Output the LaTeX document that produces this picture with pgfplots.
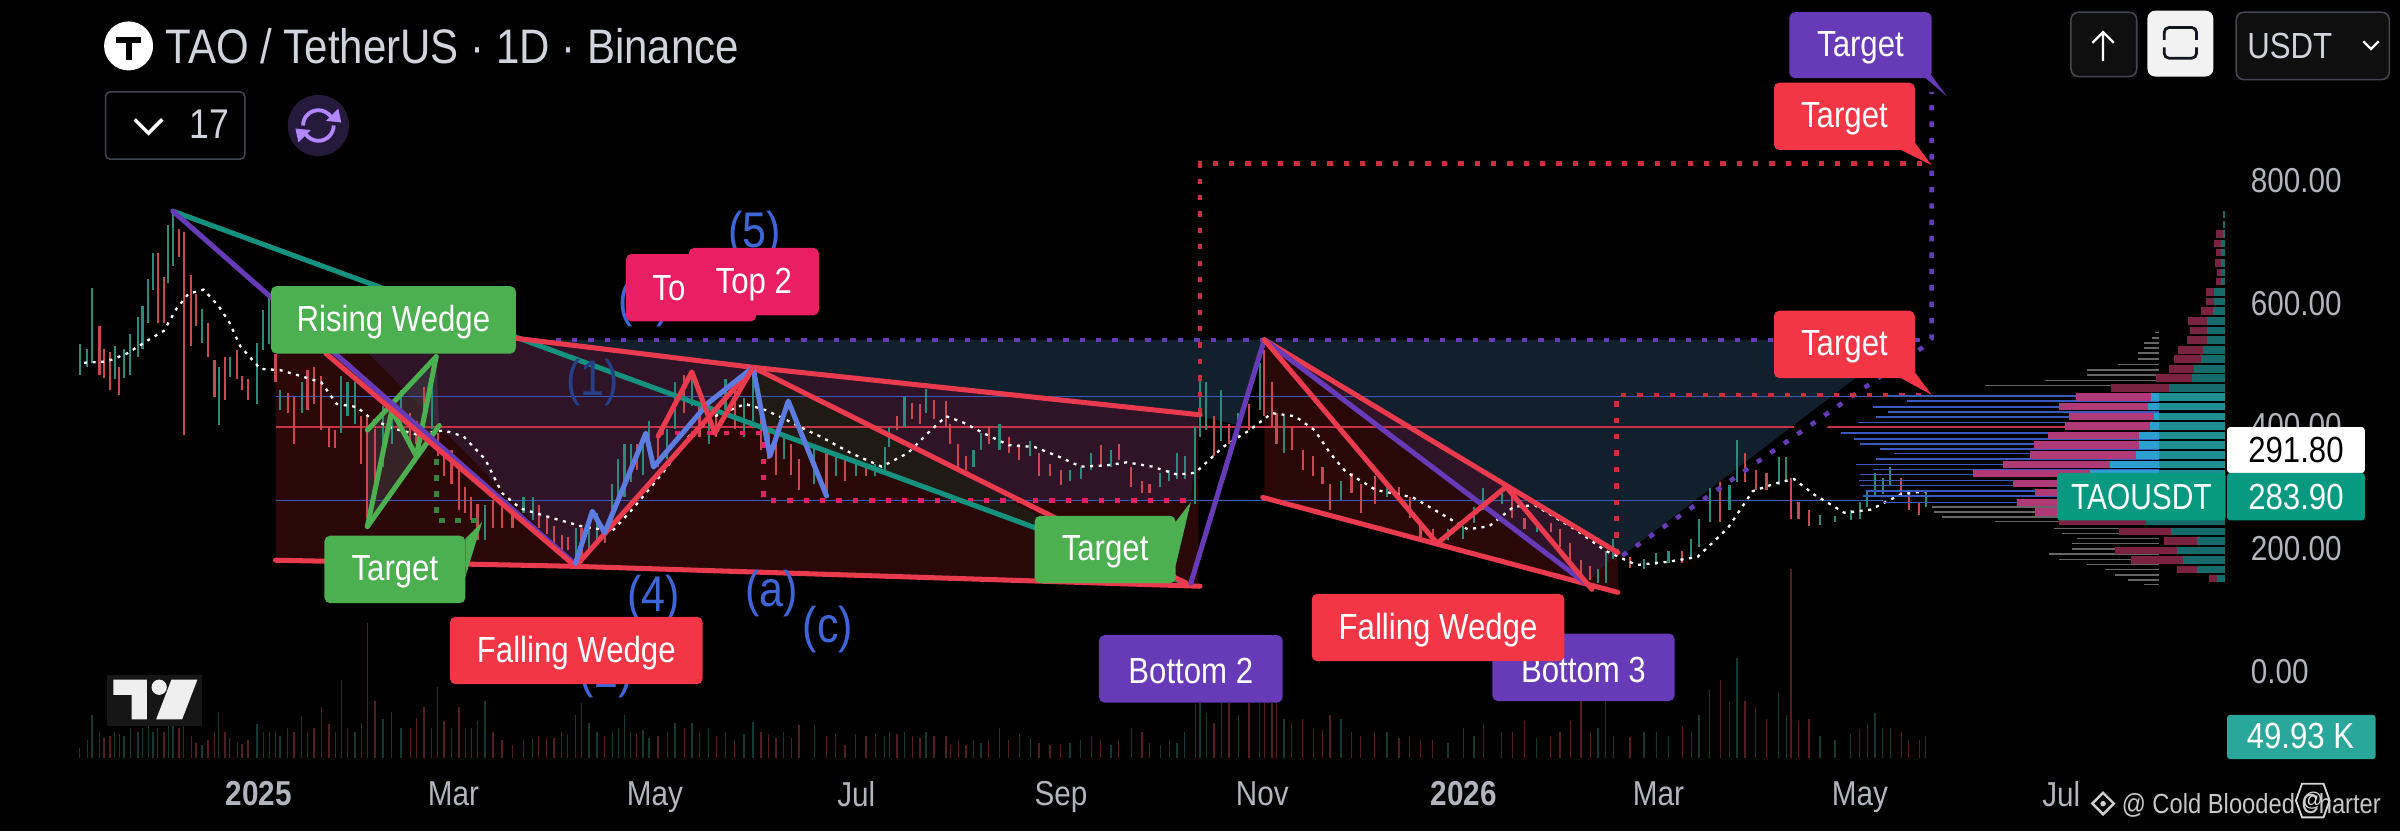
\documentclass[border=0pt]{standalone}
\usepackage{fontspec}
\setmainfont{Liberation Sans}
\usepackage{graphicx}
\usepackage{pgfplots}
\usepackage{pgfplotstable}
\pgfplotsset{compat=1.18}
\definecolor{tvred}{HTML}{F23645}
\definecolor{lnred}{HTML}{E93A4E}
\definecolor{tvgreen}{HTML}{4CAF50}
\definecolor{tvpurple}{HTML}{673AB7}
\definecolor{tvpink}{HTML}{E91E63}
\definecolor{tvteal}{HTML}{089981}
\definecolor{lnteal}{HTML}{14917F}
\definecolor{wave}{HTML}{3F66D9}
\definecolor{upc}{HTML}{2A8A7C}
\definecolor{dnc}{HTML}{C9474F}
\definecolor{axt}{HTML}{B2B5BE}
\definecolor{hblue}{HTML}{3B58C0}
\definecolor{hred}{HTML}{C8334A}
\definecolor{wbase}{HTML}{2A0808}
\definecolor{wlight}{HTML}{2E1426}
\definecolor{wolive}{HTML}{1F1A14}
\definecolor{navy}{HTML}{12202E}
\definecolor{HTML7A2340}{HTML}{7A2340}
\definecolor{HTML176A6A}{HTML}{176A6A}
\definecolor{HTMLB03A78}{HTML}{B03A78}
\definecolor{HTML2A9FD0}{HTML}{2A9FD0}
\definecolor{HTML1F8F94}{HTML}{1F8F94}
\definecolor{HTML2AA79B}{HTML}{2AA79B}
\definecolor{HTMLD1D4DC}{HTML}{D1D4DC}
\definecolor{HTML434651}{HTML}{434651}
\definecolor{HTML251A3C}{HTML}{251A3C}
\definecolor{HTMLB388FF}{HTML}{B388FF}
\definecolor{HTML0F0F0F}{HTML}{0F0F0F}
\definecolor{HTMLF2F2F2}{HTML}{F2F2F2}
\definecolor{HTML131722}{HTML}{131722}
\definecolor{HTML161616}{HTML}{161616}
\definecolor{HTMLEFEFEF}{HTML}{EFEFEF}
\definecolor{HTMLD0D0D0}{HTML}{D0D0D0}
\definecolor{HTMLC8C8C8}{HTML}{C8C8C8}
\definecolor{HTMLD8D8D8}{HTML}{D8D8D8}
\newcommand\tx[1]{\scalebox{.97}[1.13]{#1}}

% daily bars: day since 2025-01-01, low, high, up flag, volume (K)
\pgfplotstableread{
d lo hi u v
-54.2 483 533 1 23
-51.9 496 525 1 40
-50.5 503 625 1 100
-48.2 483 563 0 60
-46.8 478 525 0 45
-45 458 520 0 50
-43.6 476 530 1 60
-42.2 451 496 0 55
-40.8 478 525 1 50
-38.9 483 550 1 70
-36.6 513 578 1 60
-35.2 525 595 1 70
-33.4 568 640 1 75
-32 622 682 1 60
-30.6 568 682 0 70
-28.7 568 642 0 60
-27.4 632 727 1 75
-26 660 752 1 80
-24.1 675 720 0 70
-22.7 386 715 0 93
-20.4 530 645 0 50
-19 563 615 0 35
-17.2 535 590 1 30
-15.3 513 568 0 40
-13.4 448 508 0 60
-12.1 401 496 1 107
-10.2 443 513 0 60
-8.8 480 513 1 46
-6.5 476 523 0 36
-5.1 458 481 0 32
-3.2 443 476 0 40
-0.5 436 535 1 78
1.4 523 588 1 60
3.2 533 608 1 60
5.1 471 518 0 61
6.5 426 458 1 50
8.8 421 453 0 70
10.7 371 448 0 60
13 421 471 1 96
14.8 426 491 0 60
16.7 436 496 0 70
19 393 481 0 118
21.3 366 398 0 78
23.2 364 393 0 60
25 388 481 1 182
26.9 416 471 1 70
29.2 403 471 1 60
31.1 339 416 0 80
32.9 251 416 0 314
35.2 309 396 0 132
37.6 334 433 1 90
40.3 371 441 1 107
43.1 396 458 1 70
45.9 371 421 0 70
47.8 371 408 0 93
50.1 416 463 0 118
52.4 396 471 1 70
54.2 351 388 0 164
56.1 319 351 0 85
58.4 306 361 0 70
60.7 264 334 0 118
62.6 259 301 0 70
64.4 247 284 0 70
66.3 214 274 0 85
68.6 214 271 1 132
71 234 279 0 60
73.7 234 271 0 40
76.9 234 259 0 30
80.2 259 284 1 40
83 247 284 1 45
84.8 234 271 0 50
87.2 224 251 0 45
89.5 209 237 0 45
91.8 192 222 0 60
93.6 199 219 0 55
96 172 234 1 100
97.8 177 234 0 128
100.1 197 247 1 80
102.5 209 259 1 60
104.8 209 234 0 50
107.1 242 306 1 60
108.9 279 346 1 70
110.8 284 371 1 100
112.7 309 371 1 60
114.5 329 371 0 55
116.4 321 383 1 65
118.2 359 408 1 45
121 334 383 0 50
123.8 346 396 1 60
126.1 396 471 1 80
128.9 421 483 0 70
131.2 433 483 1 80
133.5 383 433 0 60
136.3 371 408 1 70
138.6 383 421 0 50
141.4 426 476 1 60
144.2 396 458 0 40
147 383 446 1 55
149.7 408 496 1 82
152.1 361 426 0 60
154.4 346 396 0 55
156.7 321 371 0 45
159 346 383 1 60
161.3 321 371 0 45
163.7 296 346 0 75
168.3 306 371 1 75
172 291 361 0 50
174.8 319 351 1 55
177.6 311 346 0 30
180.8 319 339 1 55
184 319 336 0 50
186.8 319 339 1 55
189.6 329 366 1 50
191 366 398 1 60
193.3 393 416 0 55
195.6 398 448 1 60
198 411 438 0 50
200.3 403 436 0 45
202.1 421 461 1 60
204.5 411 443 0 50
208.2 398 441 0 50
209.5 371 403 0 30
211.9 334 371 0 40
214.2 329 351 0 30
216.5 334 361 1 40
218.8 361 388 1 35
221.1 371 398 0 40
224.4 361 403 1 70
227.2 356 383 0 40
230.4 344 371 0 55
233.7 351 376 1 45
236.4 319 356 0 35
239.7 319 339 0 30
242.9 304 329 0 30
245.7 311 329 1 35
249 314 334 1 40
252.2 329 356 1 50
255 334 369 0 40
258.2 334 361 1 30
260.5 344 371 0 40
264.3 301 334 0 70
267.5 291 311 0 60
269.8 291 306 0 35
273.1 301 324 1 30
275.8 311 329 1 40
278.2 314 356 1 35
280.5 314 351 1 60
283.7 274 398 1 125
285.1 383 476 1 128
287 393 471 1 103
289.3 351 416 0 80
291.6 376 458 1 128
293.9 371 403 0 128
296.7 383 421 1 100
300 393 436 0 128
303.2 426 503 1 128
304.6 416 523 0 130
306.9 398 471 0 128
308.3 371 421 0 135
310.6 356 416 1 90
312.9 361 398 0 80
316.2 329 361 0 90
319.4 319 351 0 70
322.2 306 334 0 65
324.5 264 306 0 100
327.8 279 311 1 90
331 291 324 0 60
333.8 259 306 0 50
338 274 319 0 60
341.7 284 311 1 60
345.4 279 301 0 45
348.6 251 284 0 50
351.9 214 242 0 40
355.6 212 232 0 40
360.2 214 232 1 35
364.9 217 237 1 70
368.1 242 269 1 50
370.9 264 299 1 80
376.5 274 296 1 60
379.7 251 284 0 60
383.4 232 251 0 85
387.1 227 242 1 45
391.3 227 242 0 50
394.1 204 232 0 60
397.3 182 209 0 85
400.5 149 182 0 132
403.3 149 172 0 60
405.7 144 167 1 70
408 144 197 1 132
410.3 184 217 1 50
415.4 169 187 0 47
419.6 167 184 1 60
423.3 174 194 1 60
427 177 197 1 50
431.2 177 197 0 74
433.9 184 217 1 60
436.3 204 249 1 100
439.5 244 299 1 157
442.7 244 309 0 182
445.5 264 304 1 130
447.8 309 378 1 232
450.2 309 356 0 132
453.4 296 329 0 118
456.7 296 324 0 90
460.4 304 349 1 150
462.7 309 349 1 100
464.1 249 316 0 439
466.4 249 276 0 85
469.6 237 264 0 90
472.9 239 256 1 50
477.5 244 254 1 40
482.2 247 264 1 55
484.9 249 276 1 66
487.2 269 296 1 80
489.6 284 324 1 104
491.9 289 316 1 70
494.2 304 334 1 70
497.5 284 316 0 60
499.8 264 296 0 40
503 256 276 0 42
504.9 269 296 1 50
}\candles

% moving average (day, price)
\pgfplotstableread{
d p
-52.9 503
-45.9 505
-39.9 518
-33.4 540
-28.7 555
-25 590
-21.3 615
-16.7 622
-12.1 595
-8.8 568
-5.6 530
0.5 493
6.5 491
13 481
19 471
23.6 436
29.7 431
34.3 411
40.8 396
48.2 386
56.1 393
62.1 383
68.6 346
73.7 291
79.3 266
88.5 251
97.8 237
107.1 229
113.1 264
122.4 324
130.3 383
138.2 416
147.4 436
153.5 426
159.5 411
164.1 398
170.1 383
179.4 356
188.7 334
196.6 356
202.6 388
208.2 416
213.3 406
219.7 388
227.2 369
235 366
242.9 349
249 334
256.8 336
262.9 341
270.7 334
278.2 321
283.7 324
292.1 366
300 393
306.9 421
313.9 416
319.9 393
324.5 356
329.2 326
338.4 296
349.6 284
357 261
366.2 232
372.7 237
380.2 269
386.6 271
398.7 232
406.1 204
408 197
417.3 174
426.5 179
435.8 187
445 234
452.5 294
459 306
465 314
471 289
480.3 259
488.2 264
497.5 289
504.9 294
}\sma

% volume profile, outer rows: price, left end of the up part, left end of the down part
\pgfplotstableread{
p t r
744.5 595.1 595.1
728 595.1 595.1
712.6 595.1 592.8
697 594.5 592.2
682 594.5 592.7
665 594.5 592.5
650 594.5 593.3
635 594.5 592.7
618 592.2 589.9
603 592.2 589.9
587 591.8 588.3
571 590.2 584.3
555 590.2 585
540 590.2 584
524 589 581.2
509 588.3 580.2
493 586.3 578.6
478 585.6 574.8
462 578.6 561.1
245 571.7 545.4
229 579.1 563.5
213 587.1 577.1
198 581 562.4
182 582.8 567
167 587.1 581
152 593.3 590.7
}\vpouter
% volume profile, value area rows: price, left end of the up parts, left end of the down part
\pgfplotstableread{
p b r
447 573.2 550.3
432 572.4 545.4
416 574 548.2
400 572.9 547.2
385 569.6 542
369 569.6 537.7
353 568.6 536.6
338 560.8 528.4
323 554.7 519.1
307 554.7 531.5
292 554.7 538.1
276 554.7 532.7
260 554.7 538.1
}\vpinner
% volume profile, thin value area lines: price, left end
\pgfplotstableread{
p l
449 493.6
440.4 499.3
431 489
422.5 493.6
414.5 489.8
406 484.3
389 479.2
379 483.3
371 485.1
363 491
355 495.2
346 489.8
337.5 483.9
329.5 489
321.5 485.1
311.6 484.8
303 485.1
294 486.7
286 485.9
276 492.1
}\vpthin
\pgfplotstableread{
p l
552 574.4
543 573.5
535 570.9
527 570.9
519 569.3
509 569.3
500 563.2
491 553.9
483 553.9
474 541
466 523
268 506.8
260 507.5
252 509.8
244.5 526
233 543.8
225 546.2
217 550.8
209 549.3
200 549.3
192 542.3
183 545.4
175 553.9
167 559.3
158 562.4
150 566.3
142 570.9
}\vpgray

% a drawing on the chart, its vertices read as picture positions
\newcommand\drawing[2]{\addplot[#1] table[row sep=\\,header=false,
  x expr={(\thisrowno{0}-169)/2.157}, y expr={(439-\thisrowno{1})*2.49}] {#2};}
\tikzset{
  thick line/.style={line width=3.3pt,line join=round,line cap=round},
  dotted line/.style={line width=3pt,dash pattern=on 3.5pt off 7.2pt},
}
\newcommand\lbl[7]{% x1 y1 x2 y2 colour text size
  \fill[#5,rounded corners=3.5pt] (#1,#2) rectangle (#3,#4);
  \node[text=white,font=\fontsize{#7}{#7}\selectfont,inner sep=0pt] at ({(#1+#3)/2},{(#2+#4)/2+1.7}) {\tx{#6}};}

\begin{document}
\begin{tikzpicture}
\useasboundingbox (0,0) rectangle (1568pt,543pt);
\fill[black] (0,0) rectangle (1568pt,543pt);

% volume pane
\begin{axis}[at={(0,38pt)},anchor=south west,width=1455pt,height=505pt,scale only axis,
  hide axis,xmin=-78.35,xmax=596.2,ymin=-35.7,ymax=1767]
\addplot[draw=none,mark=none,error bars/.cd,y dir=plus,y explicit,error mark=none,
  error bar style={line width=.9pt,color=dnc!42!black}]
  table[x expr={\thisrow{u}>0 ? nan : \thisrow{d}},y expr=0,y error plus=v] {\candles};
\addplot[draw=none,mark=none,error bars/.cd,y dir=plus,y explicit,error mark=none,
  error bar style={line width=.9pt,color=upc!42!black}]
  table[x expr={\thisrow{u}>0 ? \thisrow{d} : nan},y expr=0,y error plus=v] {\candles};
\end{axis}

% price pane
\begin{axis}[at={(0,38pt)},anchor=south west,width=1455pt,height=505pt,scale only axis,
  xmin=-78.35,xmax=596.2,ymin=-164.3,ymax=1093.1,
  axis line style={draw=none},tick style={draw=none},
  xtick={0,59,120,181,243,304,365,424,485,546},
  xticklabels={\tx{\textbf{2025}},\tx{Mar},\tx{May},\tx{Jul},\tx{Sep},\tx{Nov},\tx{\textbf{2026}},\tx{Mar},\tx{May},\tx{Jul}},
  ytick={0,200,400,600,800},yticklabels={\tx{0.00},\tx{200.00},\tx{400.00},\tx{600.00},\tx{800.00}},
  yticklabel pos=right,
  tick label style={text=axt,font=\fontsize{20}{20}\selectfont},
  xticklabel style={yshift=-2pt},
  yticklabel style={anchor=west,xshift=12pt},
  ]
% zones
\drawing{fill=navy,draw=none}{337 222\\1245 222\\1060 363\\1057 361\\826 222\\810 278\\784 272\\}
\drawing{fill=wbase,draw=none}{180 222\\337 222\\783 272\\783 382\\180 366\\}
\drawing{fill=wlight,draw=none}{232 222\\337 222\\492 240\\375 368\\}
\drawing{fill=wlight,draw=none}{492 240\\783 272\\778 327\\655 327\\}
\drawing{fill=wolive,draw=none}{492 240\\675 335\\690 352\\492 279\\}
\drawing{fill=wbase,draw=none}{826 222\\1057 361\\1057 387\\826 326\\}
\drawing{fill=wlight,draw=none}{826 222\\1057 361\\1036 381\\}
\drawing{fill=HTML434651,fill opacity=.45,draw=none}{240 281\\285 233\\287 278\\240 344\\}
% levels
\drawing{hblue,line width=1.2pt}{180 259\\1260 259\\}
\drawing{hblue,line width=1.2pt}{180 327\\1230 327\\}
\drawing{hred,line width=1.2pt}{180 279\\1172 279\\}
\drawing{hred,line width=1.2pt}{1194 279\\1349 279\\}
% bars
\addplot[draw=none,mark=none,error bars/.cd,y dir=plus,y explicit,error mark=none,
  error bar style={line width=1.4pt,color=dnc}]
  table[x expr={\thisrow{u}>0 ? nan : \thisrow{d}},y=lo,y error plus expr={\thisrow{hi}-\thisrow{lo}}] {\candles};
\addplot[draw=none,mark=none,error bars/.cd,y dir=plus,y explicit,error mark=none,
  error bar style={line width=1.4pt,color=upc}]
  table[x expr={\thisrow{u}>0 ? \thisrow{d} : nan},y=lo,y error plus expr={\thisrow{hi}-\thisrow{lo}}] {\candles};
% moving average
\addplot[white,line width=1.5pt,dash pattern=on 2pt off 3.6pt] table[x=d,y=p] {\sma};
% dotted targets
\drawing{dotted line,tvpurple}{363 222\\1255 222\\}
\drawing{dotted line,tvpurple}{1060 363\\1256 227\\1262 221\\1262 60\\}
\drawing{dotted line,tvred!85!black}{784 270\\784 107\\1261 107\\}
\drawing{dotted line,tvred!85!black}{1056 362\\1056 258\\1262 258\\}
\drawing{dotted line,tvpink}{430 283\\499 283\\499 327\\778 327\\}
\drawing{line width=3pt,tvgreen!75!black,dash pattern=on 3.5pt off 7pt}{285 300\\285 340\\313 340\\}
% green wedge
\drawing{thick line,tvgreen}{240 281\\285 233\\}
\drawing{thick line,tvgreen}{240 344\\287 278\\}
\drawing{thick line,tvgreen}{240 344\\256 268\\272 298\\285 233\\}
% long lines
\drawing{thick line,lnteal}{113 138\\775 381\\}
\drawing{thick line,tvpurple}{113 138\\375 368\\}
\drawing{thick line,lnred}{213 231\\376 370\\492 240\\775 381\\}
\drawing{thick line,lnred}{337 221\\492 240\\784 271\\}
\drawing{thick line,lnred}{180 366\\376 370\\784 383\\}
\drawing{thick line,tvpurple}{778 381\\826 222\\}
\drawing{thick line,wave!85!white}{376 368\\387 334\\395 348\\422 283\\427 305\\463 263\\492 240\\503 298\\515 262\\540 324\\}
\drawing{thick line,lnred}{430 285\\452 243\\467 283\\492 240\\}
% second wedge
\drawing{thick line,lnred}{826 222\\1057 361\\}
\drawing{thick line,lnred}{825 325\\1057 387\\}
\drawing{thick line,tvpurple}{826 222\\1036 381\\}
\drawing{thick line,lnred}{826 222\\939 355\\984 318\\1040 385\\}
% volume profile
\addplot[draw=none,mark=none,error bars/.cd,x dir=plus,x explicit,error mark=none,
  error bar style={line width=1pt,color=hblue}]
  table[x=l,y=p,x error plus expr={575.5-\thisrow{l}}] {\vpthin};
\addplot[draw=none,mark=none,error bars/.cd,x dir=plus,x explicit,error mark=none,
  error bar style={line width=1pt,color=gray!80!black}]
  table[x=l,y=p,x error plus expr={575.5-\thisrow{l}}] {\vpgray};
\addplot[draw=none,mark=none,error bars/.cd,x dir=plus,x explicit,error mark=none,
  error bar style={line width=1pt,color=hred}]
  coordinates {(475.1,398) +- (100,0)};
\addplot[draw=none,mark=none,error bars/.cd,x dir=plus,x explicit,error mark=none,
  error bar style={line width=4.8pt,color=HTML7A2340}]
  table[x=r,y=p,x error plus expr={595.6-\thisrow{r}}] {\vpouter};
\addplot[draw=none,mark=none,error bars/.cd,x dir=plus,x explicit,error mark=none,
  error bar style={line width=4.8pt,color=HTML176A6A}]
  table[x=t,y=p,x error plus expr={595.6-\thisrow{t}}] {\vpouter};
\addplot[draw=none,mark=none,error bars/.cd,x dir=plus,x explicit,error mark=none,
  error bar style={line width=4.8pt,color=HTMLB03A78}]
  table[x=r,y=p,x error plus expr={595.6-\thisrow{r}}] {\vpinner};
\addplot[draw=none,mark=none,error bars/.cd,x dir=plus,x explicit,error mark=none,
  error bar style={line width=4.8pt,color=HTML2A9FD0}]
  table[x=b,y=p,x error plus expr={595.6-\thisrow{b}}] {\vpinner};
\addplot[draw=none,mark=none,error bars/.cd,x dir=plus,x explicit,error mark=none,
  error bar style={line width=4.8pt,color=HTML1F8F94}]
  table[x expr=575.5,y=p,x error plus expr=20.1] {\vpinner};
\end{axis}

% labels and interface, placed in picture positions
\begin{scope}[x=1pt,y=-1pt,yshift=543pt]
% wave counts
\foreach \t/\x/\y/\c in {(5)/493/153/wave,(3)/421/198/wave,(1)/387/250/wave!62!black,(4)/427/391/wave,(a)/504/388/wave,(c)/541/411/wave,(2)/396/441/wave}{
  \node[text=\c,font=\fontsize{29}{29}\selectfont,inner sep=0pt] at (\x,\y) {\tx{\t}};}
% boxes
\lbl{177}{187}{337}{231}{tvgreen}{Rising Wedge}{21}
\fill[tvgreen] (280,390)--(304,375)--(304,352)--(315,341)--(300,390)--cycle;
\lbl{212}{350}{304}{394}{tvgreen}{Target}{21}
\lbl{294}{403}{459}{447}{tvred}{Falling Wedge}{21}
\lbl{409}{166}{494}{210}{tvpink}{}{21}
\node[text=white,font=\fontsize{21}{21}\selectfont] at (437,188) {\tx{To}};
\lbl{450}{162}{535}{206}{tvpink}{Top 2}{21}
\fill[tvgreen] (765,345)--(778,328)--(768,370)--cycle;
\lbl{676}{337}{768}{381}{tvgreen}{Target}{21}
\lbl{718}{415}{838}{459}{tvpurple}{Bottom 2}{21}
\lbl{975}{414}{1094}{458}{tvpurple}{Bottom 3}{21}
\lbl{857}{388}{1022}{432}{tvred}{Falling Wedge}{21}
\fill[tvpurple] (1255,40)--(1272,63)--(1258,51)--cycle;
\lbl{1169}{8}{1262}{51}{tvpurple}{Target}{21}
\fill[tvred] (1245,85)--(1262,108)--(1240,97)--cycle;
\lbl{1159}{54}{1251}{98}{tvred}{Target}{21}
\fill[tvred] (1245,235)--(1262,258)--(1240,246)--cycle;
\lbl{1159}{203}{1251}{247}{tvred}{Target}{21}
% price tags
\fill[white,rounded corners=2pt] (1455,279) rectangle (1545,309);
\node[text=black,font=\fontsize{21}{21}\selectfont,inner sep=0pt] at (1500,294) {\tx{291.80}};
\fill[tvteal,rounded corners=2pt] (1344,309) rectangle (1454,340);
\node[text=white,font=\fontsize{21}{21}\selectfont,inner sep=0pt] at (1399,325) {\scalebox{.93}[1.13]{TAOUSDT}};
\fill[tvteal,rounded corners=2pt] (1455,309) rectangle (1545,340);
\node[text=white,font=\fontsize{21}{21}\selectfont,inner sep=0pt] at (1500,325) {\tx{283.90}};
\fill[HTML2AA79B,rounded corners=2pt] (1455,467) rectangle (1552,496);
\node[text=white,font=\fontsize{21}{21}\selectfont,inner sep=0pt] at (1503,481) {\tx{49.93 K}};
% header
\fill[white] (84,30) circle (16);
\fill[black] (76,24) rectangle (92,28);
\fill[black] (82,24) rectangle (86,39);
\node[text=HTMLD1D4DC,font=\fontsize{28}{28}\selectfont,anchor=west,inner sep=0pt] at (108,30) {\scalebox{.98}[1.13]{TAO / TetherUS · 1D · Binance}};
\draw[HTML434651,line width=1pt,rounded corners=3pt] (69,60) rectangle (160,104);
\draw[white,line width=2.2pt] (88,78)--(97,87)--(106,78);
\node[text=HTMLD1D4DC,font=\fontsize{24}{24}\selectfont,inner sep=0pt] at (137,81) {\tx{17}};
\fill[HTML251A3C] (208,82) circle (20);
\draw[HTMLB388FF,line width=2.5pt] (198,82) arc (180:325:10);
\draw[HTMLB388FF,line width=2.5pt] (218,82) arc (0:145:10);
\fill[HTMLB388FF] (213,79)--(223,80)--(221,71)--cycle;
\fill[HTMLB388FF] (203,85)--(193,84)--(195,93)--cycle;
% buttons
\fill[HTML0F0F0F] (1353,8) rectangle (1396,50);
\draw[HTML434651,line width=1pt,rounded corners=5pt] (1353,8) rectangle (1396,50);
\draw[white,line width=1.5pt] (1374,40)--(1374,21) (1367,28)--(1374,21)--(1381,28);
\fill[HTMLF2F2F2,rounded corners=5pt] (1403,7) rectangle (1446,50);
\draw[HTML131722,line width=1.8pt,rounded corners=3pt] (1414,26)--(1414,18)--(1435,18)--(1435,26);
\draw[HTML131722,line width=1.8pt,rounded corners=3pt] (1414,31)--(1414,38)--(1435,38)--(1435,31);
\fill[HTML0F0F0F] (1461,8) rectangle (1561,52);
\draw[HTML434651,line width=1pt,rounded corners=5pt] (1461,8) rectangle (1561,52);
\node[text=HTMLD1D4DC,font=\fontsize{21}{21}\selectfont,anchor=west,inner sep=0pt] at (1468,30) {\tx{USDT}};
\draw[white,line width=1.5pt] (1544,27)--(1549,32)--(1554,27);
% logo
\fill[HTML161616] (70,441) rectangle (132,474);
\fill[HTMLEFEFEF] (74,444)--(96,444)--(96,470)--(86,470)--(86,454)--(74,454)--cycle;
\fill[HTMLEFEFEF] (104,449) circle (5);
\fill[HTMLEFEFEF] (112,444)--(129,444)--(119,470)--(102,470)--cycle;
% watermark
\draw[HTMLD0D0D0,line width=1.6pt] (1374,518)--(1381,525)--(1374,532)--(1367,525)--cycle;
\fill[HTMLD0D0D0] (1374,525) circle (1.8);
\node[text=HTMLC8C8C8,font=\fontsize{16}{16}\selectfont,anchor=west,inner sep=0pt] at (1386,526) {\tx{@ Cold Blooded Charter}};
\draw[HTMLD8D8D8,line width=1.2pt] (1504,512)--(1518,512)--(1522,523)--(1518,534)--(1504,534)--(1500,523)--cycle;
\node[text=HTMLD8D8D8,font=\fontsize{13}{13}\selectfont,inner sep=0pt] at (1511,523) {@};
\end{scope}
\end{tikzpicture}
\end{document}
